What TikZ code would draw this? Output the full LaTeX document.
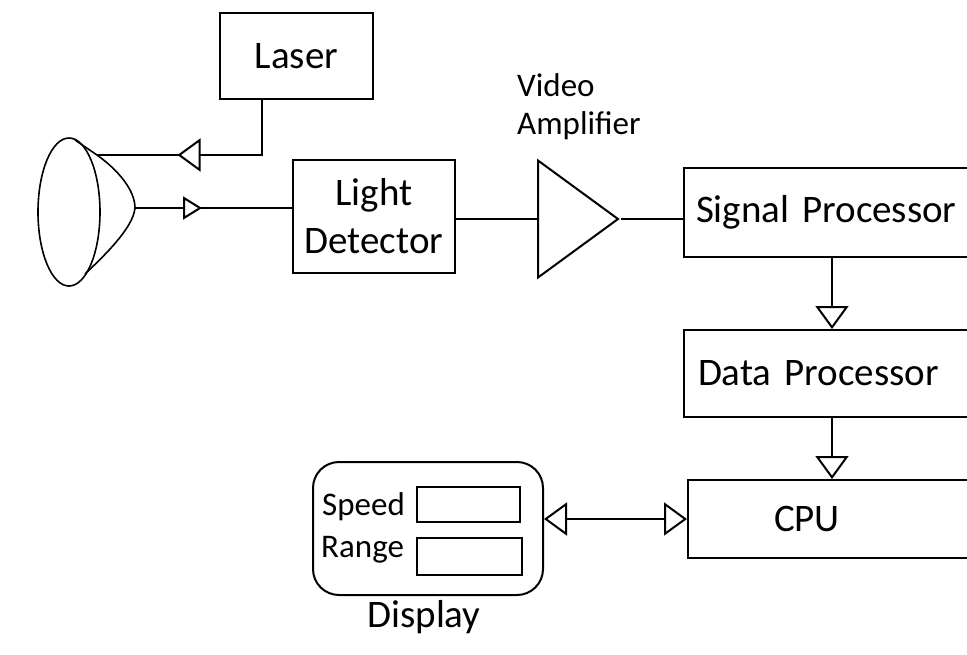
\documentclass[tikz,border=0pt]{standalone}
\usepackage{fontspec}
\setmainfont{Carlito}
\usetikzlibrary{arrows.meta,positioning,calc,decorations.markings,shapes.geometric}
\tikzset{
  tri/.tip      = {Triangle[length=23pt, width=33pt, fill=white]},
  smalltri/.tip = {Triangle[length=19pt, width=23pt, fill=white]},
  block/.style  = {draw, line width=2pt, rectangle, align=center, inner sep=0pt},
  wideblock/.style = {block, anchor=west, align=left, text width=300pt},
  wire/.style   = {line width=2pt},
  sig/.style    = {-tri, line width=2pt},
  midsig/.style 2 args = {wire, postaction={decorate},
                  decoration={markings, mark=at position #1 with {\arrow{#2}}}},
  smalltxt/.style = {font=\fontsize{33}{38}\selectfont},
}

\begin{document}
\begin{tikzpicture}[x=1pt,y=-1pt,font=\fontsize{39}{48}\selectfont]
\useasboundingbox (0,0) rectangle (967,654);
\clip (0,0) rectangle (967,654);
% lens
\draw[line width=1.6pt] (69,212) ellipse [x radius=31pt, y radius=74pt];
\draw[line width=1.6pt] (75,140) -- (97,155) .. controls (118,170) and (135,190) .. (135,208)
  .. controls (133,228) and (105,255) .. (85,274);
\coordinate (lensA) at (97,155);
\coordinate (lensB) at (135,208);
% blocks
\node[block, minimum width=153pt, minimum height=86pt] (laser) at (296.5,56) {Laser};
\node[block, minimum width=162pt, minimum height=113pt] (LD) at (374,216.5) {Light\\Detector};
\node[draw, line width=2pt, isosceles triangle, isosceles triangle stretches, inner sep=0pt,
      minimum width=117pt, minimum height=80pt, anchor=west] (amp) at (537,219) {};
\node[smalltxt, anchor=west, inner sep=0pt, align=left] (amptxt) at (517,107) {Video\\Amplifier};
\node[wideblock, inner xsep=12pt, minimum height=89pt] (SP) at (683,212.5) {Signal Processor};
\node[wideblock, inner xsep=14pt, minimum height=87pt] (DP) at (683,373.5) {Data Processor};
\node[wideblock, inner xsep=86pt, minimum height=78pt] (CPU) at (687,519) {CPU};
% display
\node[draw, line width=2pt, rounded corners=26pt, minimum width=230pt, minimum height=133pt] (disp) at (428,528.5) {};
\node[block, minimum width=103pt, minimum height=35pt] (spdbox) at (468.5,504.5) {};
\node[block, minimum width=105pt, minimum height=37pt] (rngbox) at (469.5,556.5) {};
\node[smalltxt, anchor=base west, inner sep=0pt] (spd) at (322,515) {Speed};
\node[smalltxt, anchor=base west, inner sep=0pt] (rng) at (321,557) {Range};
\node[anchor=base, inner sep=0pt] (disptxt) at (424,627) {Display};
% connectors
\coordinate (col) at (832,0);
\draw[midsig={139pt}{tri}] ($(laser.south)+(-35,0)$) |- (lensA);
\draw[midsig={67pt}{smalltri}] (lensB) -- (lensB -| LD.west);
\draw[wire] (amp.west -| LD.east) -- (amp.west);
\draw[wire] (amp.apex) -- (amp.apex -| SP.west);
\draw[sig] (col |- SP.south) -- (col |- DP.north);
\draw[sig] (col |- DP.south) -- (col |- CPU.north);
\draw[sig, tri-tri] (CPU.west -| disp.east) -- (CPU.west);
\end{tikzpicture}
\end{document}
